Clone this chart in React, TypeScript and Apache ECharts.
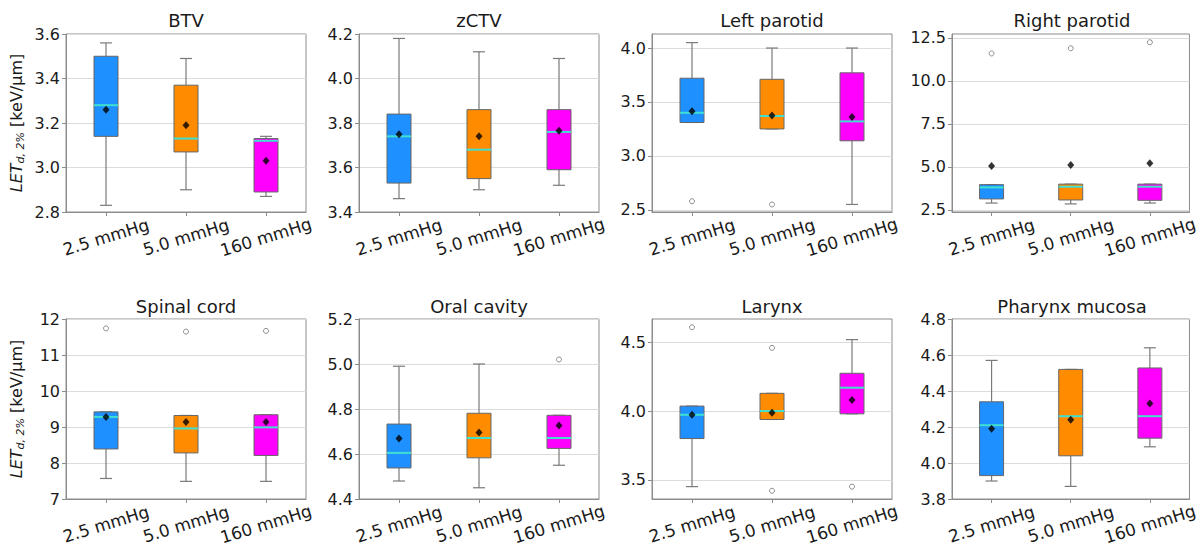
import React, { useEffect, useRef } from 'react';
import * as echarts from 'echarts';

const categories = ['2.5 mmHg', '5.0 mmHg', '160 mmHg'];
const titles = ['BTV', 'zCTV', 'Left parotid', 'Right parotid', 'Spinal cord', 'Oral cavity', 'Larynx', 'Pharynx mucosa'];

// box stats per group: [lower whisker, Q1, median, Q3, upper whisker]
const btvBoxes = [[2.83, 3.14, 3.28, 3.50, 3.56], [2.90, 3.07, 3.13, 3.37, 3.49], [2.87, 2.89, 3.12, 3.13, 3.14]];
const btvMeans = [3.26, 3.19, 3.03];
const btvOutliers: number[][] = [];

const zctvBoxes = [[3.46, 3.53, 3.74, 3.84, 4.18], [3.50, 3.55, 3.68, 3.86, 4.12], [3.52, 3.59, 3.76, 3.86, 4.09]];
const zctvMeans = [3.75, 3.74, 3.765];
const zctvOutliers: number[][] = [];

const lparBoxes = [[3.31, 3.31, 3.40, 3.72, 4.05], [3.25, 3.25, 3.37, 3.71, 4.00], [2.55, 3.14, 3.32, 3.77, 4.00]];
const lparMeans = [3.415, 3.375, 3.36];
const lparOutliers = [[0, 2.58], [1, 2.55]];

const rparBoxes = [[2.90, 3.14, 3.81, 3.97, 3.97], [2.85, 3.08, 3.85, 4.00, 4.00], [2.90, 3.06, 3.85, 4.00, 4.00]];
const rparMeans = [5.06, 5.12, 5.22];
const rparOutliers = [[0, 11.6], [1, 11.9], [2, 12.25]];

const spinalBoxes = [[7.57, 8.39, 9.28, 9.42, 9.42], [7.49, 8.28, 8.96, 9.32, 9.32], [7.49, 8.21, 8.99, 9.34, 9.34]];
const spinalMeans = [9.28, 9.14, 9.14];
const spinalOutliers = [[0, 11.74], [1, 11.65], [2, 11.67]];

const oralBoxes = [[4.48, 4.538, 4.605, 4.733, 4.99], [4.45, 4.583, 4.671, 4.781, 5.00], [4.55, 4.625, 4.671, 4.772, 4.772]];
const oralMeans = [4.669, 4.696, 4.727];
const oralOutliers = [[2, 5.02]];

const larynxBoxes = [[3.45, 3.80, 3.973, 4.036, 4.036], [3.939, 3.939, 4.00, 4.129, 4.129], [3.98, 3.98, 4.17, 4.275, 4.52]];
const larynxMeans = [3.973, 3.988, 4.08];
const larynxOutliers = [[0, 4.61], [1, 4.46], [1, 3.42], [2, 3.45]];

const pharynxBoxes = [[3.90, 3.93, 4.21, 4.34, 4.57], [3.87, 4.04, 4.26, 4.52, 4.52], [4.09, 4.138, 4.26, 4.528, 4.64]];
const pharynxMeans = [4.19, 4.24, 4.33];
const pharynxOutliers: number[][] = [];

const boxesList = [btvBoxes, zctvBoxes, lparBoxes, rparBoxes, spinalBoxes, oralBoxes, larynxBoxes, pharynxBoxes];
const meansList = [btvMeans, zctvMeans, lparMeans, rparMeans, spinalMeans, oralMeans, larynxMeans, pharynxMeans];
const outliersList = [btvOutliers, zctvOutliers, lparOutliers, rparOutliers, spinalOutliers, oralOutliers, larynxOutliers, pharynxOutliers];

// y axis ranges and tick labels
const yMins = [2.8, 3.4, 2.48, 2.38, 7, 4.4, 3.36, 3.8];
const yMaxs = [3.6, 4.2, 4.13, 12.73, 12, 5.2, 4.67, 4.8];
const yTickLabels = [
  ['2.8', '3.0', '3.2', '3.4', '3.6'],
  ['3.4', '3.6', '3.8', '4.0', '4.2'],
  ['2.5', '3.0', '3.5', '4.0'],
  ['2.5', '5.0', '7.5', '10.0', '12.5'],
  ['7', '8', '9', '10', '11', '12'],
  ['4.4', '4.6', '4.8', '5.0', '5.2'],
  ['3.5', '4.0', '4.5'],
  ['3.8', '4.0', '4.2', '4.4', '4.6', '4.8'],
];

const groupColors = ['#1E90FF', '#FF8C00', '#FF00FF'];
const FONT = 'DejaVu Sans';

export default function App() {
  const ref = useRef<HTMLDivElement>(null);
  useEffect(() => {
    if (!ref.current) return;
    const chart = echarts.init(ref.current, null, { renderer: 'svg' });
    const lefts = [66, 359, 652, 952];
    const tops = [34, 319];
    const heights = [178, 180];
    const grids: any[] = [];
    const xAxes: any[] = [];
    const yAxes: any[] = [];
    const series: any[] = [];
    const title: any[] = [];
    for (let i = 0; i < 8; i++) {
      const row = Math.floor(i / 4);
      const col = i % 4;
      grids.push({
        left: lefts[col], top: tops[row], width: 240, height: heights[row],
        show: true, borderColor: '#8c8c8c', borderWidth: 1, backgroundColor: '#fff',
      });
      title.push({
        text: titles[i], left: lefts[col] + 120, top: row === 0 ? 11 : 297, textAlign: 'center', padding: 0,
        textStyle: { fontFamily: FONT, fontSize: 18, fontWeight: 'normal', color: '#1a1a1a' },
      });
      xAxes.push({
        type: 'category', gridIndex: i, data: categories,
        axisLine: { show: true, lineStyle: { color: '#8c8c8c' } },
        axisTick: { show: true, alignWithLabel: true, length: 4, lineStyle: { color: '#8c8c8c' } },
        axisLabel: {
          interval: 0, rotate: 17, align: 'center', verticalAlign: 'middle', margin: 25,
          fontFamily: FONT, fontSize: 17, color: '#1a1a1a',
        },
        splitLine: { show: false },
      });
      const labels = yTickLabels[i];
      const tickVals = labels.map((s) => parseFloat(s));
      const yAxis: any = {
        type: 'value', gridIndex: i, min: yMins[i], max: yMaxs[i],
        axisLine: { show: true, lineStyle: { color: '#8c8c8c' } },
        axisTick: { show: true, length: 4, lineStyle: { color: '#8c8c8c' }, customValues: tickVals },
        axisLabel: {
          customValues: tickVals, margin: 6,
          fontFamily: FONT, fontSize: 16, color: '#1a1a1a',
          formatter: (v: number) => {
            let best = 0;
            for (let t = 1; t < tickVals.length; t++) {
              if (Math.abs(tickVals[t] - v) < Math.abs(tickVals[best] - v)) best = t;
            }
            return labels[best];
          },
        },
        splitLine: { show: true, lineStyle: { color: '#dcdcdc', width: 1 } },
      };
      if (col === 0) {
        yAxis.name = '{it|LET}{sub|d, 2%} [keV/μm]';
        yAxis.nameLocation = 'middle';
        yAxis.nameGap = 40;
        yAxis.nameRotate = 90;
        yAxis.nameTextStyle = {
          fontFamily: FONT, fontSize: 16, color: '#1a1a1a',
          rich: {
            it: { fontFamily: FONT, fontSize: 16, fontStyle: 'italic', color: '#1a1a1a' },
            sub: { fontFamily: FONT, fontSize: 11, fontStyle: 'italic', color: '#1a1a1a', verticalAlign: 'bottom', padding: [8, 0, 0, 0] },
          },
        };
      }
      yAxes.push(yAxis);

      const boxData = boxesList[i].map((b, k) => [k, ...b]);
      series.push({
        type: 'custom', xAxisIndex: i, yAxisIndex: i, z: 2,
        encode: { x: 0, y: [1, 2, 3, 4, 5] },
        data: boxData,
        renderItem: (params: any, api: any) => {
          const k = api.value(0);
          const lo = api.coord([k, api.value(1)]);
          const q1 = api.coord([k, api.value(2)]);
          const med = api.coord([k, api.value(3)]);
          const q3 = api.coord([k, api.value(4)]);
          const hi = api.coord([k, api.value(5)]);
          const cx = lo[0];
          const hw = 12;
          const cw = 6;
          const wStyle = { stroke: '#7a7a7a', lineWidth: 1.2 };
          return {
            type: 'group',
            children: [
              { type: 'line', shape: { x1: cx, y1: q1[1], x2: cx, y2: lo[1] }, style: wStyle },
              { type: 'line', shape: { x1: cx, y1: q3[1], x2: cx, y2: hi[1] }, style: wStyle },
              { type: 'line', shape: { x1: cx - cw, y1: lo[1], x2: cx + cw, y2: lo[1] }, style: wStyle },
              { type: 'line', shape: { x1: cx - cw, y1: hi[1], x2: cx + cw, y2: hi[1] }, style: wStyle },
              {
                type: 'rect',
                shape: { x: cx - hw, y: q3[1], width: hw * 2, height: q1[1] - q3[1] },
                style: { fill: groupColors[k], stroke: '#666666', lineWidth: 1 },
              },
              { type: 'line', shape: { x1: cx - hw, y1: med[1], x2: cx + hw, y2: med[1] }, style: { stroke: '#40E0D0', lineWidth: 2 } },
            ],
          };
        },
      });
      series.push({
        type: 'scatter', xAxisIndex: i, yAxisIndex: i, z: 4,
        symbol: 'diamond', symbolSize: [7, 8],
        itemStyle: { color: '#000' },
        data: meansList[i].map((m, k) => [k, m]),
      });
      series.push({
        type: 'scatter', xAxisIndex: i, yAxisIndex: i, z: 3,
        symbol: 'circle', symbolSize: 5,
        itemStyle: { color: 'rgba(0,0,0,0)', borderColor: '#707070', borderWidth: 1 },
        data: outliersList[i].map((o) => [o[0], o[1]]),
      });
    }
    chart.setOption({
      animation: false,
      backgroundColor: '#fff',
      title,
      grid: grids,
      xAxis: xAxes,
      yAxis: yAxes,
      series,
    });
    return () => chart.dispose();
  }, []);
  return <div ref={ref} style={{ position: 'fixed', left: 0, top: 0, width: 1200, height: 549 }} />;
}
